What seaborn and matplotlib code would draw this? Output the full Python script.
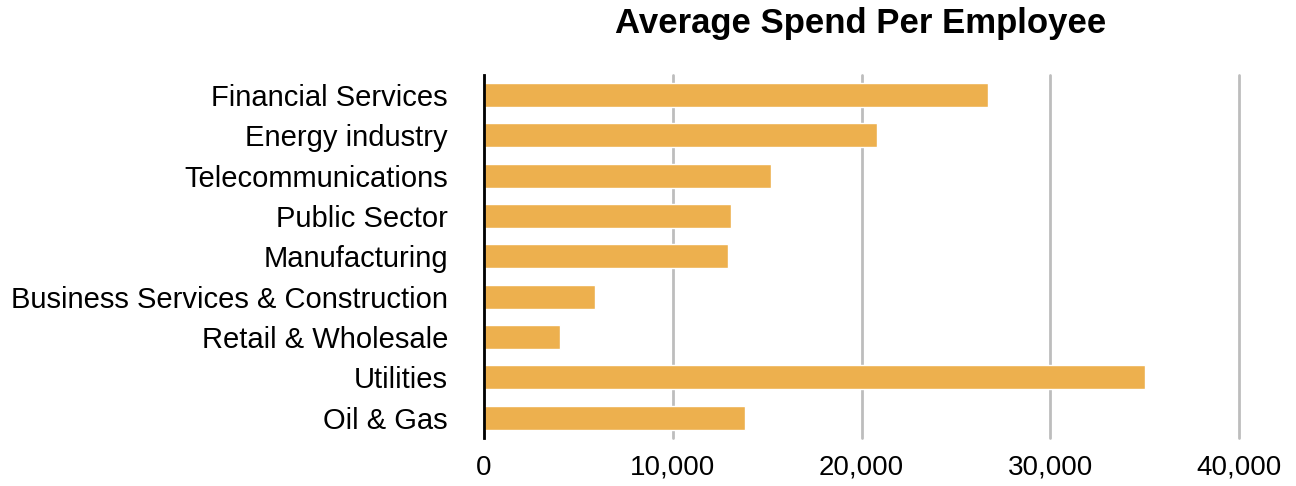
import matplotlib
matplotlib.use("Agg")
import matplotlib.pyplot as plt
import seaborn as sns
import pandas as pd

# Average spend per employee by industry sector
sectors = [
    "Financial Services",
    "Energy industry",
    "Telecommunications",
    "Public Sector",
    "Manufacturing",
    "Business Services & Construction",
    "Retail & Wholesale",
    "Utilities",
    "Oil & Gas",
]
spend = [26700, 20800, 15200, 13100, 12900, 5900, 4000, 35000, 13850]
x_ticks = [0, 10000, 20000, 30000, 40000]

df = pd.DataFrame({"sector": sectors, "spend": spend})

sns.set_theme(style="white")
plt.rcParams["font.family"] = ["Liberation Sans", "DejaVu Sans"]
plt.rcParams["text.color"] = "black"
plt.rcParams["xtick.color"] = "black"
plt.rcParams["ytick.color"] = "black"

fig = plt.figure(figsize=(12.96, 4.86), dpi=100)
ax = fig.add_axes([0.3735, 0.099, 0.5825, 0.747])

sns.barplot(data=df, x="spend", y="sector", order=sectors, color="#EDB04E",
            saturation=1, width=0.6, ax=ax, zorder=3)

ax.set_xlim(0, 40000)
ax.set_ylim(len(sectors) - 0.5, -0.5)
ax.set_xticks(x_ticks)
ax.set_xticklabels([f"{v:,}" for v in x_ticks], fontsize=20)
ax.tick_params(axis="y", labelsize=21, length=0, pad=26)
ax.tick_params(axis="x", length=0, pad=12)
ax.set_xlabel("")
ax.set_ylabel("")

ax.grid(axis="x", color="#bdbdbd", linewidth=2, zorder=0)
ax.grid(axis="y", visible=False)
for gl in ax.get_xgridlines():
    gl.set_clip_on(False)
for side in ["top", "right", "bottom"]:
    ax.spines[side].set_visible(False)
ax.spines["left"].set_color("black")
ax.spines["left"].set_linewidth(2)
ax.spines["left"].set_zorder(5)

fig.text(0.664, 0.952, "Average Spend Per Employee", ha="center", va="center",
         fontsize=25, fontweight="bold", color="black")

fig.savefig("out.png", dpi=100, facecolor="white")
